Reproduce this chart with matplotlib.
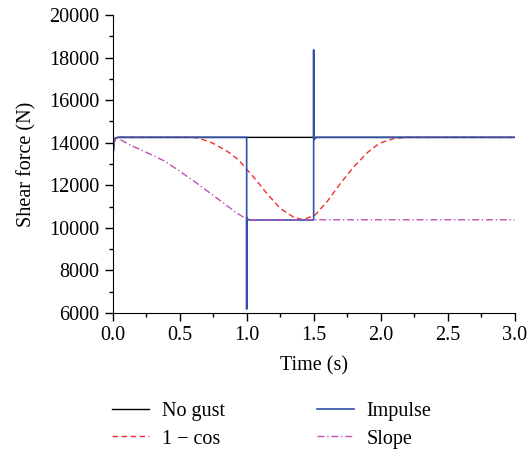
import numpy as np
import matplotlib
matplotlib.use("Agg")
import matplotlib.pyplot as plt
from matplotlib.ticker import MultipleLocator

plt.rcParams['font.family'] = ['Liberation Serif', 'DejaVu Serif']
plt.rcParams['font.size'] = 14.5

# no gust
t_none = [0.0, 0.01, 0.02, 0.04, 3.0]
f_none = [13200, 14000, 14220, 14250, 14250]

# impulse gust
t_imp = [0.0, 0.01, 0.02, 0.04, 1.0, 1.0, 1.0, 1.005, 1.02, 1.5, 1.5, 1.5, 1.505, 1.52, 3.0]
f_imp = [13200, 14000, 14220, 14250, 14250, 6200, 10500, 10420, 10370, 10370, 18350, 14250, 14150, 14250, 14250]

# 1 - cos gust
t_cos = [0.0, 0.01, 0.02, 0.04, 0.6, 0.65, 0.75, 0.85, 0.94, 1.0, 1.05, 1.15, 1.25,
         1.35, 1.42, 1.51, 1.6, 1.7, 1.8, 1.9, 1.99, 2.1, 2.2, 3.0]
f_cos = [13200, 14000, 14220, 14250, 14250, 14200, 13970, 13620, 13190, 12750, 12400, 11620, 10920,
         10500, 10380, 10600, 11230, 12090, 12870, 13530, 13970, 14200, 14250, 14250]

# slope gust
t_slope = [0.0, 0.01, 0.02, 0.03, 0.13, 0.23, 0.38, 0.48, 0.63, 0.73, 0.83, 0.93, 1.0, 1.02, 3.0]
f_slope = [13200, 14000, 14220, 14240, 13890, 13610, 13160, 12750, 12090, 11620, 11150, 10680, 10420, 10380, 10380]

fig = plt.figure(figsize=(5.3, 4.53), dpi=100)
ax = fig.add_axes([0.2126, 0.309, 0.7584, 0.658])

ax.plot(t_none, f_none, color='black', lw=1.0, label='No gust')
ax.plot(t_cos, f_cos, color='#ee3030', lw=1.0, ls=(0, (4, 2.5)), label='1 \u2212 cos')
ax.plot(t_imp, f_imp, color='#2f4fa8', lw=1.2, label='Impulse')
ax.plot(t_slope, f_slope, color='#c050b8', lw=1.0, ls=(0, (5, 2, 1, 2)), label='Slope')

ax.set_xlim(0, 3.0)
ax.set_ylim(6000, 20000)
ax.xaxis.set_major_locator(MultipleLocator(0.5))
ax.xaxis.set_minor_locator(MultipleLocator(0.25))
ax.yaxis.set_major_locator(MultipleLocator(2000))
ax.yaxis.set_minor_locator(MultipleLocator(1000))
ax.xaxis.set_major_formatter(plt.FuncFormatter(lambda v, p: f'{v:.1f}'))
ax.tick_params(which='major', length=6, width=1, direction='out')
ax.tick_params(which='minor', length=3, width=1, direction='out')
ax.spines['top'].set_visible(False)
ax.spines['right'].set_visible(False)

ax.set_xlabel('Time (s)', labelpad=8)
ax.set_ylabel('Shear force (N)', labelpad=9)

fig.legend(loc='upper left', bbox_to_anchor=(0.212, 0.112), ncol=2, frameon=False,
           handlelength=1.8, handletextpad=0.65, columnspacing=4.6, labelspacing=0.4,
           borderaxespad=0, borderpad=0)

plt.savefig('out.png', dpi=100)
